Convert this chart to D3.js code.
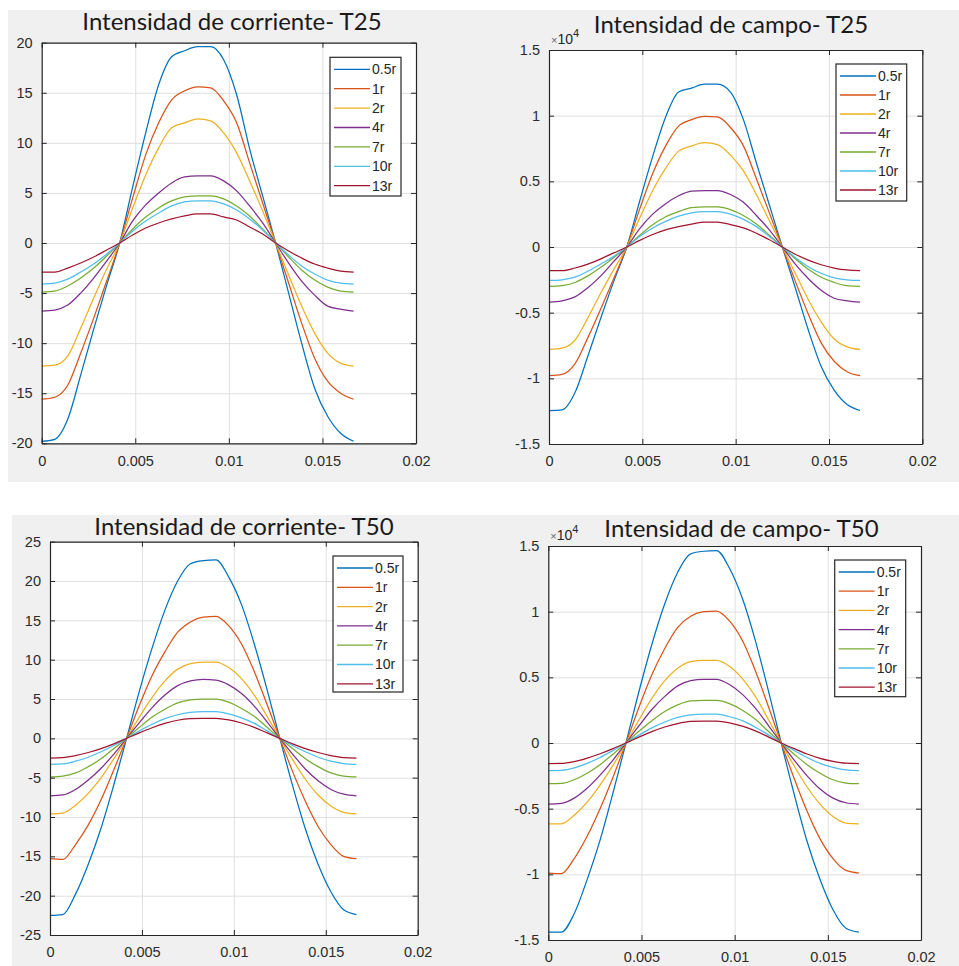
<!DOCTYPE html>
<html>
<head>
<meta charset="utf-8">
<script src="https://cdn.jsdelivr.net/npm/d3@7"></script>
<style>
  html, body { margin: 0; padding: 0; background: #ffffff; }
  svg { display: block; }
  .tick text { font-family: "Liberation Sans", Arial, sans-serif; font-size: 14.5px; fill: #2b2b2b; }
  .domain { stroke: #262626; stroke-width: 1.2px; }
  .axis .tick line { stroke: #262626; }
  .grid .tick line { stroke: #dfdfdf; }
</style>
</head>
<body>
<svg id="chart" width="959" height="966"></svg>
<script>
// Sample instants over one 60 Hz period (seconds)
const time = [0, 0.000694, 0.001389, 0.002083, 0.002778, 0.003472, 0.004167, 0.004861,
  0.005556, 0.00625, 0.006944, 0.007639, 0.008333, 0.009028, 0.009722, 0.010417,
  0.011111, 0.011806, 0.0125, 0.013194, 0.013889, 0.014583, 0.015278, 0.015972, 0.016667];

const seriesNames = ["0.5r", "1r", "2r", "4r", "7r", "10r", "13r"];

const xTicks = [0, 0.005, 0.01, 0.015, 0.02];
const xTickLabels = ["0", "0.005", "0.01", "0.015", "0.02"];
const yTicksT25Corriente = [-20, -15, -10, -5, 0, 5, 10, 15, 20];
const yTicksT50Corriente = [-25, -20, -15, -10, -5, 0, 5, 10, 15, 20, 25];
const yTicksCampo = [-15000, -10000, -5000, 0, 5000, 10000, 15000];
const yTickLabelsCampo = ["-1.5", "-1", "-0.5", "0", "0.5", "1", "1.5"];

// Intensidad de corriente, T25 (one row per distance, in seriesNames order)
const corrienteT25 = [
  [-19.8, -19.6, -17.6, -13.2, -8.6, -4.2, 0, 5.6, 11.0, 15.8, 18.6, 19.2, 19.6, 19.6, 18.3, 14.8, 9.4, 4.7, 0, -5.0, -10.0, -14.5, -17.3, -19.0, -19.8],
  [-15.6, -15.4, -14.2, -11.0, -7.5, -3.8, 0, 4.5, 8.8, 12.0, 14.3, 15.2, 15.6, 15.5, 14.2, 12.0, 8.0, 4.0, 0, -4.0, -8.0, -11.5, -13.8, -15.0, -15.6],
  [-12.3, -12.2, -11.3, -8.5, -5.5, -2.6, 0, 3.5, 6.8, 9.5, 11.5, 12.0, 12.4, 12.2, 11.0, 9.0, 6.2, 3.2, 0, -3.2, -6.3, -9.0, -11.0, -12.0, -12.3],
  [-6.8, -6.7, -6.2, -5.0, -3.5, -1.8, 0, 2.2, 3.8, 5.0, 6.0, 6.6, 6.7, 6.7, 6.2, 5.2, 3.7, 2.0, 0, -2.0, -3.8, -5.2, -6.3, -6.6, -6.8],
  [-4.9, -4.8, -4.3, -3.5, -2.5, -1.3, 0, 1.4, 2.6, 3.5, 4.2, 4.6, 4.7, 4.7, 4.4, 3.7, 2.7, 1.4, 0, -1.4, -2.7, -3.7, -4.4, -4.8, -4.9],
  [-4.1, -4.0, -3.6, -2.9, -2.1, -1.1, 0, 1.2, 2.2, 3.0, 3.7, 4.1, 4.2, 4.2, 3.9, 3.3, 2.4, 1.3, 0, -1.2, -2.3, -3.1, -3.7, -4.0, -4.1],
  [-2.9, -2.9, -2.5, -2.0, -1.4, -0.7, 0, 0.8, 1.5, 2.0, 2.4, 2.7, 2.9, 2.9, 2.6, 2.3, 1.6, 0.9, 0, -0.8, -1.5, -2.1, -2.5, -2.8, -2.9]
];

// Intensidad de campo, T25
const campoT25 = [
  [-12450, -12400, -11100, -8300, -5400, -2600, 0, 3500, 6900, 9900, 11800, 12100, 12400, 12400, 11800, 9700, 6400, 3200, 0, -3100, -6300, -9100, -10900, -12000, -12450],
  [-9800, -9700, -8900, -6900, -4700, -2400, 0, 2900, 5600, 7700, 9200, 9700, 9950, 9900, 9100, 7700, 5200, 2600, 0, -2600, -5100, -7300, -8700, -9500, -9800],
  [-7800, -7700, -7100, -5400, -3500, -1700, 0, 2200, 4300, 6000, 7300, 7700, 7950, 7800, 7000, 5800, 4000, 2000, 0, -2000, -4000, -5700, -7000, -7600, -7800],
  [-4200, -4100, -3800, -3100, -2200, -1100, 0, 1400, 2500, 3300, 3900, 4250, 4300, 4300, 4000, 3400, 2400, 1300, 0, -1300, -2400, -3300, -3900, -4100, -4200],
  [-3000, -2950, -2700, -2200, -1550, -800, 0, 900, 1700, 2300, 2700, 3000, 3050, 3050, 2850, 2400, 1750, 900, 0, -900, -1700, -2300, -2700, -2950, -3000],
  [-2550, -2500, -2300, -1850, -1300, -700, 0, 800, 1450, 1950, 2350, 2600, 2700, 2700, 2500, 2100, 1550, 800, 0, -800, -1500, -2000, -2350, -2500, -2550],
  [-1800, -1800, -1600, -1300, -900, -450, 0, 500, 950, 1300, 1550, 1750, 1900, 1900, 1700, 1450, 1050, 550, 0, -550, -1000, -1350, -1600, -1750, -1800]
];

// Intensidad de corriente, T50
const corrienteT50 = [
  [-22.5, -22.4, -19.8, -16.0, -11.4, -5.9, 0, 6.0, 11.5, 16.3, 20.0, 22.2, 22.6, 22.7, 20.5, 17.0, 12.0, 6.2, 0, -6.0, -11.5, -16.0, -19.5, -21.8, -22.4],
  [-15.3, -15.4, -13.5, -11.0, -7.8, -4.0, 0, 4.2, 8.0, 11.0, 13.5, 14.8, 15.4, 15.5, 14.3, 12.0, 8.5, 4.3, 0, -4.2, -8.0, -11.2, -13.5, -15.0, -15.3],
  [-9.6, -9.5, -8.5, -7.0, -5.0, -2.6, 0, 2.7, 5.2, 7.3, 8.8, 9.5, 9.7, 9.7, 9.0, 7.6, 5.5, 2.8, 0, -2.7, -5.2, -7.2, -8.6, -9.4, -9.6],
  [-7.3, -7.2, -6.5, -5.3, -3.8, -2.0, 0, 2.0, 3.9, 5.5, 6.7, 7.3, 7.5, 7.4, 6.8, 5.7, 4.1, 2.1, 0, -2.0, -3.9, -5.4, -6.5, -7.1, -7.3],
  [-4.9, -4.8, -4.4, -3.6, -2.6, -1.3, 0, 1.4, 2.7, 3.7, 4.5, 4.9, 5.0, 5.0, 4.6, 3.8, 2.8, 1.4, 0, -1.3, -2.6, -3.6, -4.4, -4.8, -4.9],
  [-3.3, -3.25, -2.9, -2.4, -1.7, -0.9, 0, 0.95, 1.8, 2.5, 3.0, 3.3, 3.4, 3.4, 3.1, 2.6, 1.9, 0.95, 0, -0.9, -1.7, -2.4, -2.9, -3.2, -3.3],
  [-2.5, -2.45, -2.2, -1.8, -1.3, -0.7, 0, 0.7, 1.35, 1.9, 2.3, 2.5, 2.55, 2.55, 2.35, 1.95, 1.4, 0.7, 0, -0.7, -1.3, -1.8, -2.2, -2.45, -2.5]
];

// Intensidad de campo, T50
const campoT50 = [
  [-14400, -14400, -13000, -10400, -7400, -3800, 0, 3900, 7500, 10600, 13000, 14400, 14600, 14650, 13300, 11000, 7800, 4000, 0, -3900, -7500, -10400, -12700, -14100, -14400],
  [-9900, -9950, -8800, -7100, -5000, -2600, 0, 2700, 5200, 7200, 8800, 9650, 10000, 10050, 9300, 7800, 5500, 2800, 0, -2700, -5200, -7300, -8800, -9700, -9900],
  [-6150, -6150, -5500, -4500, -3200, -1700, 0, 1750, 3400, 4750, 5700, 6200, 6300, 6300, 5850, 4900, 3550, 1800, 0, -1750, -3350, -4650, -5600, -6100, -6150],
  [-4650, -4600, -4200, -3450, -2450, -1300, 0, 1300, 2550, 3550, 4350, 4750, 4850, 4850, 4450, 3700, 2650, 1350, 0, -1300, -2500, -3500, -4200, -4550, -4650],
  [-3100, -3080, -2800, -2300, -1650, -850, 0, 900, 1700, 2400, 2900, 3200, 3250, 3250, 3000, 2500, 1800, 900, 0, -850, -1650, -2300, -2800, -3050, -3100],
  [-2100, -2080, -1900, -1550, -1100, -570, 0, 600, 1150, 1600, 1950, 2150, 2200, 2200, 2000, 1700, 1200, 620, 0, -570, -1100, -1550, -1850, -2050, -2100],
  [-1570, -1560, -1420, -1150, -820, -430, 0, 450, 870, 1220, 1480, 1640, 1670, 1670, 1540, 1280, 920, 470, 0, -430, -840, -1170, -1400, -1540, -1570]
];

// Default MATLAB line colour order
const palette = ["#0072BD", "#D95319", "#EDB120", "#7E2F8E", "#77AC30", "#4DBEEE", "#A2142F"];

const svg = d3.select("#chart");

// Grey figure backgrounds of the two rows
svg.append("rect").attr("x", 8).attr("y", 10).attr("width", 951).attr("height", 472).attr("fill", "#f0f0f0");
svg.append("rect").attr("x", 12).attr("y", 515).attr("width", 947).attr("height", 451).attr("fill", "#f0f0f0");

const panels = [
  { title: "Intensidad de corriente- T25", data: corrienteT25, yDomain: [-20, 20], yTicks: yTicksT25Corriente, yLabels: null, exp: false,
    box: { l: 41.7, r: 416, t: 42.7, b: 443.3 }, titleX: 232, titleY: 30,
    legend: { x: 330, y: 57.3, w: 71, h: 138.7, step: 19.4 } },
  { title: "Intensidad de campo- T25", data: campoT25, yDomain: [-15000, 15000], yTicks: yTicksCampo, yLabels: yTickLabelsCampo, exp: true,
    box: { l: 549, r: 922.3, t: 50, b: 444 }, titleX: 731, titleY: 33,
    legend: { x: 836, y: 64, w: 70.7, h: 137, step: 19 } },
  { title: "Intensidad de corriente- T50", data: corrienteT50, yDomain: [-25, 25], yTicks: yTicksT50Corriente, yLabels: null, exp: false,
    box: { l: 50, r: 417.7, t: 541.7, b: 935 }, titleX: 244, titleY: 535,
    legend: { x: 333, y: 556, w: 70, h: 136, step: 19.3 } },
  { title: "Intensidad de campo- T50", data: campoT50, yDomain: [-15000, 15000], yTicks: yTicksCampo, yLabels: yTickLabelsCampo, exp: true,
    box: { l: 548.3, r: 921, t: 546, b: 940 }, titleX: 741.5, titleY: 537,
    legend: { x: 834.7, y: 560, w: 71, h: 136.7, step: 19.2 } }
];

function drawPanel(p) {
  const ink = "#262626";
  const l = p.box.l, r = p.box.r, t = p.box.t, b = p.box.b;
  const x = d3.scaleLinear().domain([0, 0.02]).range([l, r]);
  const y = d3.scaleLinear().domain(p.yDomain).range([b, t]);
  const g = svg.append("g");

  // plot area
  g.append("rect").attr("x", l).attr("y", t).attr("width", r - l).attr("height", b - t).attr("fill", "#ffffff");

  // grid
  const gx = g.append("g").attr("class", "grid").attr("transform", "translate(0," + b + ")")
    .call(d3.axisBottom(x).tickValues(xTicks).tickSize(-(b - t)).tickFormat(""));
  const gy = g.append("g").attr("class", "grid").attr("transform", "translate(" + l + ",0)")
    .call(d3.axisLeft(y).tickValues(p.yTicks).tickSize(-(r - l)).tickFormat(""));
  gx.select(".domain").remove();
  gy.select(".domain").remove();

  // series
  const line = d3.line()
    .x((d, i) => x(time[i]))
    .y(d => y(d))
    .curve(d3.curveMonotoneX);
  p.data.forEach((vals, si) => {
    g.append("path").datum(vals)
      .attr("d", line)
      .attr("fill", "none")
      .attr("stroke", palette[si])
      .attr("stroke-width", 1.25)
      .attr("stroke-linejoin", "round");
  });

  // axes box, ticks pointing inwards on all four sides
  const fmtY = p.yLabels ? (d => p.yLabels[p.yTicks.indexOf(d)]) : (d => String(d));
  g.append("g").attr("class", "axis").attr("transform", "translate(0," + b + ")")
    .call(d3.axisBottom(x).tickValues(xTicks).tickSize(-5).tickSizeOuter(0).tickPadding(12)
      .tickFormat((d, i) => xTickLabels[i]));
  g.append("g").attr("class", "axis").attr("transform", "translate(0," + t + ")")
    .call(d3.axisTop(x).tickValues(xTicks).tickSize(-5).tickSizeOuter(0).tickFormat(""));
  g.append("g").attr("class", "axis").attr("transform", "translate(" + l + ",0)")
    .call(d3.axisLeft(y).tickValues(p.yTicks).tickSize(-5).tickSizeOuter(0).tickPadding(9).tickFormat(fmtY));
  g.append("g").attr("class", "axis").attr("transform", "translate(" + r + ",0)")
    .call(d3.axisRight(y).tickValues(p.yTicks).tickSize(-5).tickSizeOuter(0).tickFormat(""));

  // exponent label
  if (p.exp) {
    const e = g.append("text").attr("x", l + 2).attr("y", t - 6)
      .attr("fill", ink).style("font-family", "'Liberation Sans', Arial, sans-serif").style("font-size", "14px");
    e.append("tspan").style("font-size", "11px").attr("fill", "#666666").text("\u00d7");
    e.append("tspan").text("10");
    e.append("tspan").attr("dy", -7).style("font-size", "11px").text("4");
  }

  // title
  g.append("text").attr("x", p.titleX).attr("y", p.titleY)
    .attr("text-anchor", "middle").attr("fill", "#1a1a1a")
    .style("font-family", "Lato, 'Open Sans', sans-serif").style("font-size", "24px")
    .text(p.title);

  // legend
  const L = p.legend;
  const lg = g.append("g");
  lg.append("rect").attr("x", L.x).attr("y", L.y).attr("width", L.w).attr("height", L.h)
    .attr("fill", "#ffffff").attr("stroke", ink).attr("stroke-width", 1.2);
  seriesNames.forEach((name, i) => {
    const yy = L.y + 12 + i * L.step;
    lg.append("line").attr("x1", L.x + 4).attr("x2", L.x + 40).attr("y1", yy).attr("y2", yy)
      .attr("stroke", palette[i]).attr("stroke-width", 1.3);
    lg.append("text").attr("x", L.x + 42).attr("y", yy).attr("dy", "0.35em")
      .attr("fill", ink).style("font-family", "'Liberation Sans', Arial, sans-serif").style("font-size", "14px")
      .text(name);
  });
}

panels.forEach(drawPanel);
</script>
</body>
</html>
